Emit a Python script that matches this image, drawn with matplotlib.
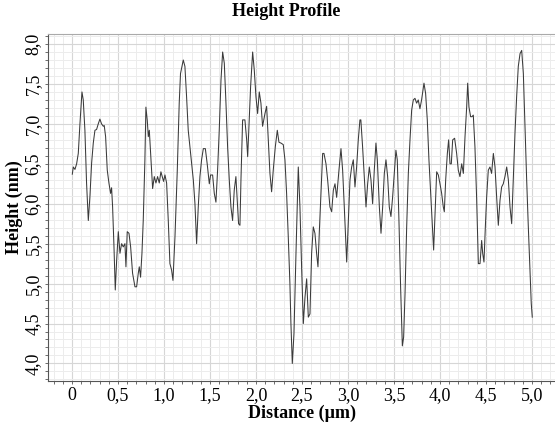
import numpy as np
import matplotlib
matplotlib.use("Agg")
import matplotlib.pyplot as plt
from matplotlib.ticker import MultipleLocator, FuncFormatter

plt.rcParams['font.family'] = ['Liberation Serif', 'DejaVu Serif']

# profile data: distance along scan line (um) and height (nm)
distance = [
    0.004, 0.015, 0.033, 0.051, 0.069, 0.087, 0.109, 0.123, 0.141, 0.159,
    0.178, 0.196, 0.214, 0.232, 0.250, 0.268, 0.286, 0.304, 0.322, 0.341,
    0.351, 0.366, 0.384, 0.402, 0.420, 0.431, 0.442, 0.457, 0.471, 0.486,
    0.504, 0.522, 0.540, 0.558, 0.576, 0.587, 0.601, 0.620, 0.638, 0.659,
    0.685, 0.703, 0.721, 0.732, 0.746, 0.761, 0.775, 0.793, 0.804, 0.819,
    0.830, 0.841, 0.859, 0.877, 0.895, 0.913, 0.931, 0.949, 0.967, 0.982,
    0.996, 1.011, 1.029, 1.047, 1.065, 1.083, 1.098, 1.120, 1.145, 1.166,
    1.180, 1.210, 1.228, 1.246, 1.264, 1.290, 1.319, 1.337, 1.355, 1.373,
    1.391, 1.409, 1.428, 1.450, 1.470, 1.493, 1.507, 1.529, 1.547, 1.565,
    1.583, 1.601, 1.620, 1.638, 1.656, 1.674, 1.692, 1.710, 1.728, 1.746,
    1.764, 1.782, 1.797, 1.811, 1.826, 1.837, 1.855, 1.880, 1.899, 1.910,
    1.924, 1.942, 1.964, 1.982, 2.000, 2.018, 2.036, 2.054, 2.072, 2.098,
    2.116, 2.134, 2.152, 2.170, 2.188, 2.210, 2.232, 2.250, 2.271, 2.297,
    2.315, 2.333, 2.351, 2.369, 2.380, 2.395, 2.413, 2.435, 2.460, 2.478,
    2.497, 2.515, 2.533, 2.551, 2.569, 2.587, 2.605, 2.623, 2.641, 2.659,
    2.674, 2.688, 2.707, 2.725, 2.739, 2.761, 2.779, 2.804, 2.823, 2.841,
    2.859, 2.877, 2.902, 2.924, 2.942, 2.960, 2.978, 2.986, 3.004, 3.022,
    3.040, 3.058, 3.076, 3.094, 3.112, 3.130, 3.140, 3.159, 3.177, 3.196,
    3.214, 3.232, 3.250, 3.268, 3.286, 3.304, 3.319, 3.341, 3.359, 3.377,
    3.395, 3.413, 3.431, 3.449, 3.467, 3.485, 3.503, 3.521, 3.536, 3.554,
    3.572, 3.591, 3.605, 3.620, 3.638, 3.656, 3.674, 3.692, 3.710, 3.728,
    3.746, 3.764, 3.782, 3.800, 3.826, 3.844, 3.862, 3.880, 3.899, 3.917,
    3.931, 3.949, 3.964, 3.982, 4.000, 4.018, 4.036, 4.047, 4.062, 4.080,
    4.094, 4.109, 4.123, 4.138, 4.159, 4.181, 4.199, 4.217, 4.236, 4.254,
    4.272, 4.290, 4.301, 4.315, 4.333, 4.348, 4.362, 4.380, 4.398, 4.417,
    4.435, 4.453, 4.464, 4.478, 4.493, 4.507, 4.525, 4.543, 4.561, 4.580,
    4.598, 4.616, 4.634, 4.652, 4.670, 4.688, 4.706, 4.725, 4.743, 4.761,
    4.779, 4.797, 4.815, 4.833, 4.851, 4.870, 4.888, 4.906, 4.924, 4.942,
    4.960, 4.978, 4.992, 5.003,
]
height = [
    6.37, 6.46, 6.43, 6.50, 6.63, 7.00, 7.40, 7.30, 6.92, 6.26,
    5.79, 6.10, 6.51, 6.76, 6.92, 6.93, 7.00, 7.06, 7.00, 6.97,
    6.98, 6.84, 6.42, 6.26, 6.13, 6.20, 5.96, 5.46, 4.92, 5.29,
    5.65, 5.38, 5.50, 5.46, 5.50, 5.21, 5.65, 5.63, 5.46, 5.13,
    4.96, 4.96, 5.13, 5.21, 5.08, 5.38, 5.79, 6.55, 7.21, 7.04,
    6.84, 6.92, 6.55, 6.19, 6.34, 6.26, 6.34, 6.26, 6.40, 6.34,
    6.28, 6.36, 6.26, 5.79, 5.25, 5.17, 5.04, 5.59, 6.42, 7.26,
    7.63, 7.80, 7.72, 7.34, 6.92, 6.63, 6.30, 6.00, 5.50, 5.96,
    6.34, 6.55, 6.69, 6.69, 6.50, 6.25, 6.36, 6.36, 6.13, 6.02,
    6.42, 6.92, 7.55, 7.90, 7.76, 7.26, 6.71, 6.30, 5.96, 5.79,
    6.17, 6.34, 6.04, 5.75, 5.73, 6.30, 7.05, 7.05, 6.80, 6.59,
    6.97, 7.47, 7.90, 7.67, 7.34, 7.13, 7.40, 7.26, 6.97, 7.13,
    7.22, 6.80, 6.38, 6.15, 6.42, 6.71, 6.92, 6.77, 6.76, 6.74,
    6.55, 6.13, 5.59, 5.00, 4.50, 4.00, 4.37, 5.38, 6.46, 5.96,
    5.17, 4.50, 4.83, 5.06, 4.58, 4.62, 5.38, 5.71, 5.63, 5.38,
    5.21, 5.63, 6.13, 6.63, 6.63, 6.50, 6.30, 5.96, 5.90, 6.17,
    6.25, 6.08, 6.42, 6.69, 6.42, 5.96, 5.46, 5.27, 5.79, 6.30,
    6.46, 6.55, 6.21, 6.46, 6.80, 7.05, 7.05, 6.71, 6.34, 5.96,
    6.25, 6.46, 6.30, 6.00, 6.42, 6.76, 6.55, 5.96, 5.63, 5.96,
    6.38, 6.55, 6.34, 5.96, 5.84, 6.08, 6.38, 6.67, 6.55, 5.79,
    4.96, 4.22, 4.33, 4.87, 5.71, 6.38, 6.80, 7.17, 7.30, 7.32,
    7.26, 7.30, 7.19, 7.30, 7.51, 7.38, 7.05, 6.55, 6.13, 5.71,
    5.42, 5.96, 6.40, 6.36, 6.25, 6.13, 5.96, 5.90, 6.30, 6.63,
    6.80, 6.50, 6.50, 6.80, 6.82, 6.63, 6.42, 6.34, 6.50, 6.38,
    6.84, 7.21, 7.51, 7.21, 7.09, 7.09, 7.11, 6.71, 6.08, 5.25,
    5.25, 5.54, 5.38, 5.27, 5.71, 6.08, 6.42, 6.46, 6.38, 6.63,
    6.46, 6.08, 5.73, 6.04, 6.21, 6.25, 6.34, 6.46, 6.30, 5.96,
    5.75, 6.30, 6.88, 7.34, 7.72, 7.88, 7.92, 7.63, 6.97, 6.30,
    5.71, 5.17, 4.75, 4.58,
]

fig = plt.figure(figsize=(5.55, 4.26), dpi=100)
ax = fig.add_axes([0.0865, 0.1056, 0.9135, 0.8154])

ax.plot(distance, height, color='#3a3a3a', linewidth=0.75)

ax.set_xlim(-0.26, 5.25)
ax.set_ylim(3.78, 8.13)

ax.xaxis.set_major_locator(MultipleLocator(0.5))
ax.xaxis.set_minor_locator(MultipleLocator(0.1))
ax.yaxis.set_major_locator(MultipleLocator(0.5))
ax.yaxis.set_minor_locator(MultipleLocator(0.1))


def comma(v, pos):
    if abs(v) < 1e-9:
        return '0'
    return ('%.1f' % v).replace('.', ',')


ax.xaxis.set_major_formatter(FuncFormatter(comma))
ax.yaxis.set_major_formatter(FuncFormatter(comma))

ax.grid(which='major', color='#d6d6d6', linewidth=0.8)
ax.grid(which='minor', color='#ececec', linewidth=0.7)
ax.set_axisbelow(True)

ax.tick_params(which='both', direction='out', length=2.5, width=0.6,
               color='#555555', labelsize=13)
ax.tick_params(axis='x', pad=2)
ax.tick_params(axis='y', pad=2)
for lab in ax.get_yticklabels():
    lab.set_rotation(90)
    lab.set_va('center')

ax.spines['right'].set_visible(False)
ax.spines['top'].set_color('#aaaaaa')
ax.spines['left'].set_color('#555555')
ax.spines['bottom'].set_color('#555555')

ax.set_xlabel('Distance (µm)', fontsize=13, fontweight='bold', labelpad=0)
ax.set_ylabel('Height (nm)', fontsize=13, fontweight='bold', labelpad=1)
fig.text(0.516, 0.972, 'Height Profile', fontsize=13, fontweight='bold',
         ha='center', va='center')

fig.savefig('out.png', dpi=100)
